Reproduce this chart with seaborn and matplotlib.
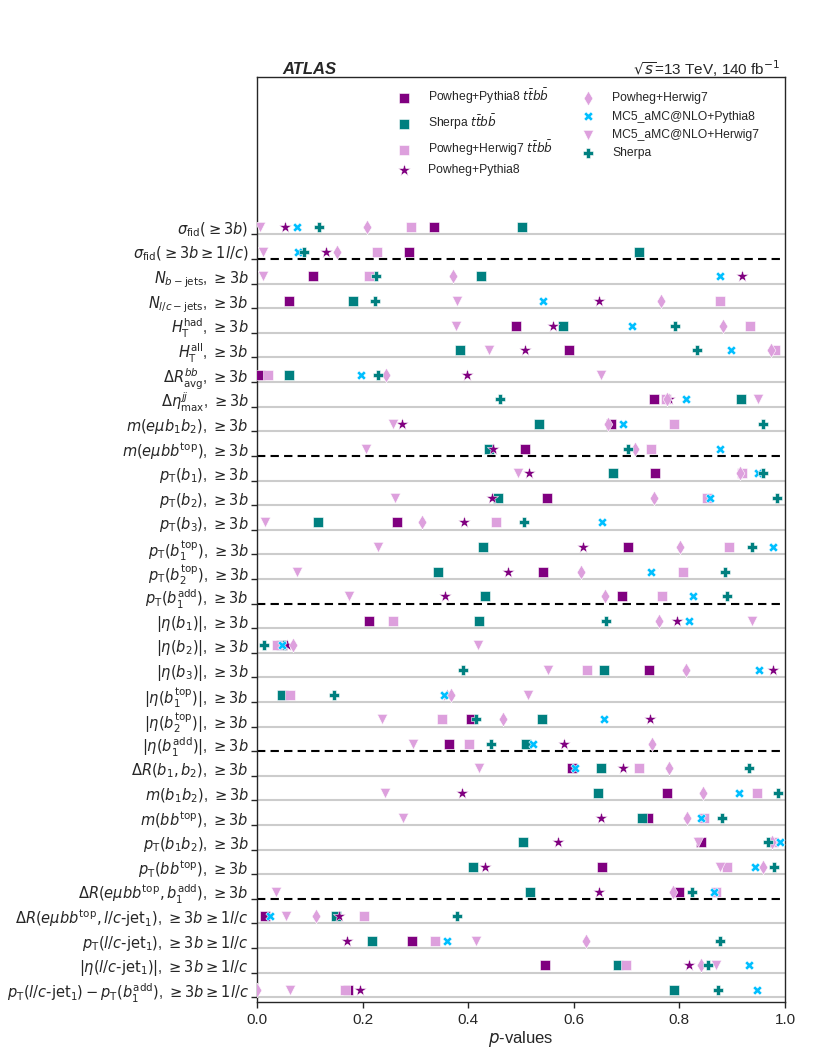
import numpy as np
import pandas as pd
import matplotlib
matplotlib.use("Agg")
import matplotlib.pyplot as plt
import seaborn as sns

# observables (top to bottom)
observables = [
    r'$\sigma_{\rm fid}(\geq 3b)$',
    r'$\sigma_{\rm fid}(\geq 3b \geq 1l/c)$',
    r'$N_{b{\rm -jets}}$, $\geq 3b$',
    r'$N_{l/c{\rm -jets}}$, $\geq 3b$',
    r'$H_{\rm T}^{\rm had}$, $\geq 3b$',
    r'$H_{\rm T}^{\rm all}$, $\geq 3b$',
    r'$\Delta R^{bb}_{\rm avg}$, $\geq 3b$',
    r'$\Delta\eta^{jj}_{\rm max}$, $\geq 3b$',
    r'$m(e\mu b_1 b_2)$, $\geq 3b$',
    r'$m(e\mu bb^{\rm top})$, $\geq 3b$',
    r'$p_{\rm T}(b_1)$, $\geq 3b$',
    r'$p_{\rm T}(b_2)$, $\geq 3b$',
    r'$p_{\rm T}(b_3)$, $\geq 3b$',
    r'$p_{\rm T}(b_1^{\rm top})$, $\geq 3b$',
    r'$p_{\rm T}(b_2^{\rm top})$, $\geq 3b$',
    r'$p_{\rm T}(b_1^{\rm add})$, $\geq 3b$',
    r'$|\eta(b_1)|$, $\geq 3b$',
    r'$|\eta(b_2)|$, $\geq 3b$',
    r'$|\eta(b_3)|$, $\geq 3b$',
    r'$|\eta(b_1^{\rm top})|$, $\geq 3b$',
    r'$|\eta(b_2^{\rm top})|$, $\geq 3b$',
    r'$|\eta(b_1^{\rm add})|$, $\geq 3b$',
    r'$\Delta R(b_1, b_2)$, $\geq 3b$',
    r'$m(b_1 b_2)$, $\geq 3b$',
    r'$m(bb^{\rm top})$, $\geq 3b$',
    r'$p_{\rm T}(b_1 b_2)$, $\geq 3b$',
    r'$p_{\rm T}(bb^{\rm top})$, $\geq 3b$',
    r'$\Delta R(e\mu bb^{\rm top}, b_1^{\rm add})$, $\geq 3b$',
    r'$\Delta R(e\mu bb^{\rm top}, l/c\text{-jet}_1)$, $\geq 3b \geq 1l/c$',
    r'$p_{\rm T}(l/c\text{-jet}_1)$, $\geq 3b \geq 1l/c$',
    r'$|\eta(l/c\text{-jet}_1)|$, $\geq 3b \geq 1l/c$',
    r'$p_{\rm T}(l/c\text{-jet}_1) - p_{\rm T}(b_1^{\rm add})$, $\geq 3b \geq 1l/c$',
]

# p-values per generator, same order as observables
pp8_ttbb = [0.335, 0.288, 0.107, 0.061, 0.491, 0.590, 0.006, 0.752, 0.670, 0.507,
            0.754, 0.549, 0.265, 0.703, 0.541, 0.692, 0.213, 0.048, 0.743, 0.050,
            0.405, 0.363, 0.596, 0.777, 0.741, 0.841, 0.653, 0.799, 0.015, 0.294,
            0.546, 0.173]
sherpa_ttbb = [0.502, 0.723, 0.425, 0.182, 0.579, 0.384, 0.060, 0.916, 0.534, 0.439,
               0.674, 0.456, 0.115, 0.428, 0.343, 0.432, 0.420, 0.045, 0.657, 0.048,
               0.539, 0.509, 0.651, 0.645, 0.729, 0.503, 0.409, 0.518, 0.149, 0.218,
               0.684, 0.789]
ph7_ttbb = [0.291, 0.227, 0.212, 0.876, 0.934, 0.981, 0.020, 0.775, 0.790, 0.747,
            0.918, 0.852, 0.452, 0.893, 0.806, 0.767, 0.258, 0.037, 0.625, 0.063,
            0.350, 0.401, 0.723, 0.947, 0.847, 0.978, 0.891, 0.869, 0.203, 0.337,
            0.699, 0.166]
pp8 = [0.054, 0.130, 0.918, 0.648, 0.560, 0.508, 0.398, 0.781, 0.274, 0.447,
       0.516, 0.446, 0.393, 0.617, 0.475, 0.356, 0.796, 0.056, 0.978, 0.360,
       0.745, 0.582, 0.693, 0.388, 0.652, 0.571, 0.432, 0.647, 0.156, 0.171,
       0.818, 0.196]
ph7 = [0.208, 0.151, 0.372, 0.766, 0.882, 0.973, 0.244, 0.776, 0.665, 0.716,
       0.915, 0.751, 0.312, 0.801, 0.613, 0.660, 0.761, 0.068, 0.812, 0.367,
       0.465, 0.748, 0.780, 0.844, 0.814, 0.975, 0.959, 0.787, 0.112, 0.624,
       0.840, 0.001]
mc5_py8 = [0.075, 0.077, 0.877, 0.542, 0.710, 0.897, 0.197, 0.812, 0.694, 0.876,
           0.948, 0.857, 0.653, 0.978, 0.746, 0.826, 0.819, 0.048, 0.951, 0.355,
           0.658, 0.522, 0.602, 0.912, 0.840, 0.991, 0.943, 0.866, 0.025, 0.359,
           0.932, 0.947]
mc5_h7 = [0.006, 0.012, 0.012, 0.379, 0.377, 0.440, 0.652, 0.948, 0.258, 0.206,
          0.495, 0.261, 0.015, 0.230, 0.075, 0.175, 0.938, 0.419, 0.551, 0.513,
          0.237, 0.295, 0.420, 0.242, 0.277, 0.836, 0.877, 0.036, 0.055, 0.415,
          0.870, 0.063]
sherpa = [0.117, 0.089, 0.225, 0.223, 0.791, 0.833, 0.229, 0.461, 0.958, 0.702,
          0.959, 0.984, 0.506, 0.938, 0.886, 0.890, 0.661, 0.014, 0.391, 0.146,
          0.415, 0.443, 0.932, 0.986, 0.880, 0.968, 0.980, 0.823, 0.379, 0.876,
          0.855, 0.873]

model_names = [r'Powheg+Pythia8 $t\bar{t}b\bar{b}$', r'Sherpa $t\bar{t}b\bar{b}$',
               r'Powheg+Herwig7 $t\bar{t}b\bar{b}$', 'Powheg+Pythia8',
               'Powheg+Herwig7', 'MC5_aMC@NLO+Pythia8', 'MC5_aMC@NLO+Herwig7', 'Sherpa']
model_values = [pp8_ttbb, sherpa_ttbb, ph7_ttbb, pp8, ph7, mc5_py8, mc5_h7, sherpa]
markers = ['s', 's', 's', '*', 'd', 'X', 'v', 'P']
colors = ['#800080', '#008080', '#dda0dd', '#800080', '#dda0dd', '#00bfff', '#dda0dd', '#008080']
sizes = [42, 42, 42, 85, 55, 45, 55, 42]

# rows after which a dashed separator is drawn
dashed_after = [1, 9, 15, 21, 27]

sns.set_style("ticks")
plt.rcParams['font.family'] = ['Liberation Sans', 'DejaVu Sans']
plt.rcParams['mathtext.fontset'] = 'dejavusans'

fig = plt.figure(figsize=(8.3, 10.57), dpi=100)
ax = fig.add_axes([0.3096, 0.0518, 0.6362, 0.8754])

rows = np.arange(len(observables))
for i in rows:
    if i in dashed_after:
        ax.axhline(i + 0.3, color='black', ls=(0, (4, 2.5)), lw=1.5, zorder=1)
    else:
        ax.axhline(i + 0.3, color='#cccccc', lw=1.5, zorder=1)

for name, vals, m, c, s in zip(model_names, model_values, markers, colors, sizes):
    df = pd.DataFrame({'p': vals, 'row': rows})
    sns.scatterplot(data=df, x='p', y='row', marker=m, color=c, s=s,
                    edgecolor='white', linewidth=0.4, label=name, ax=ax, zorder=3)

ax.set_xlim(0, 1)
ax.set_ylim(31.5, -6.1)
ax.set_yticks(rows)
ax.set_yticklabels(observables, fontsize=10.5)
ax.set_yticks(rows + 0.3, minor=True)
ax.tick_params(axis='y', which='major', length=0, pad=6)
ax.tick_params(axis='y', which='minor', length=4, width=1)
ax.set_xticks([0, 0.2, 0.4, 0.6, 0.8, 1.0])
ax.set_xticklabels(['0.0', '0.2', '0.4', '0.6', '0.8', '1.0'], fontsize=11)
ax.tick_params(axis='x', length=4, width=1)
ax.set_xlabel(r'$p$-values', fontsize=12, labelpad=2)
ax.set_ylabel('')
for sp in ax.spines.values():
    sp.set_visible(True)
    sp.set_linewidth(1.0)

ax.legend(ncol=2, frameon=False, fontsize=8.7, loc='upper left',
          bbox_to_anchor=(0.235, 1.001), labelspacing=0.52, columnspacing=1.9,
          handletextpad=1.0)

fig.text(0.34, 0.9347, 'ATLAS', fontsize=12, fontweight='bold', fontstyle='italic',
         ha='left', va='center')
fig.text(0.9398, 0.9347, r'$\sqrt{s}$=13 TeV, 140 fb$^{-1}$', fontsize=11,
         ha='right', va='center')

fig.savefig('out.png', dpi=100)
